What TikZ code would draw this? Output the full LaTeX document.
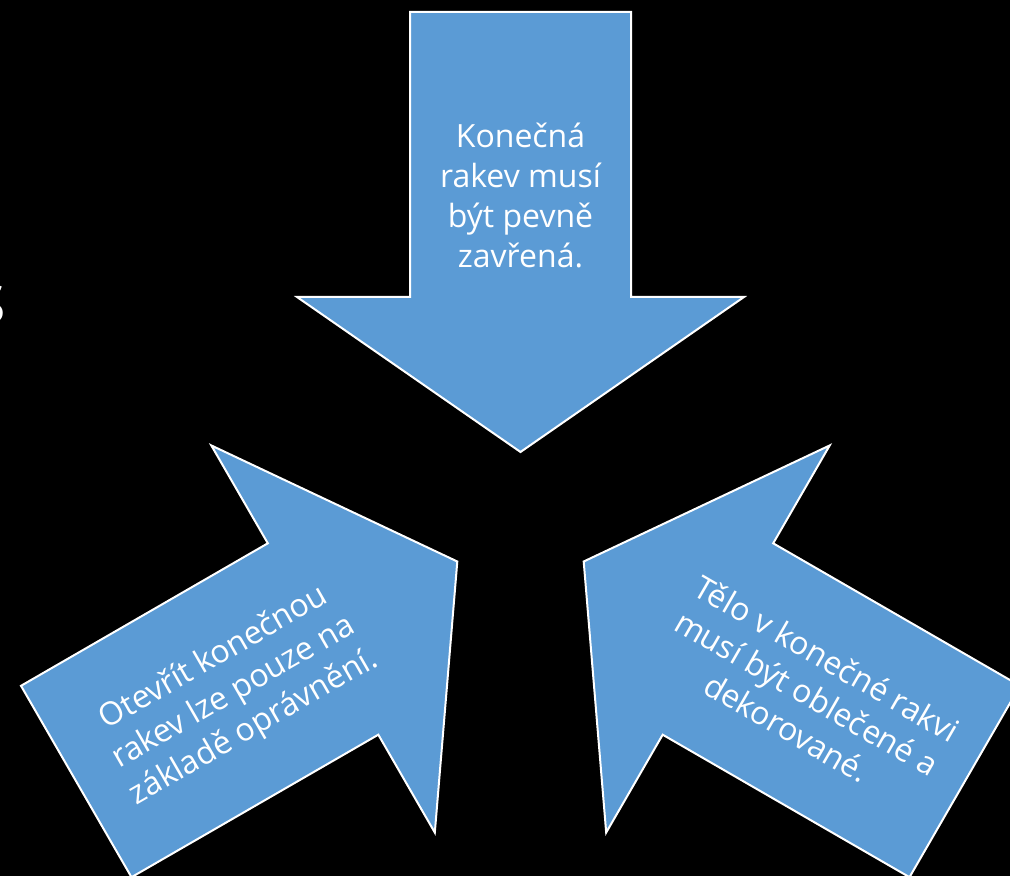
\documentclass[tikz,border=0pt]{standalone}
\usepackage{fontspec}
\setmainfont{Open Sans}
\definecolor{arrowblue}{HTML}{5B9BD5}
\tikzset{
  bigarrow/.style={fill=arrowblue, draw=white, line width=1.5pt, line join=miter},
  arrowtext/.style={text=white, align=center, inner sep=0pt, font=\fontsize{24}{30}\selectfont}
}
\begin{document}
\begin{tikzpicture}[x=0.75pt, y=0.75pt]
\useasboundingbox (0,0) rectangle (1010,876);
\fill[black] (0,0) rectangle (1010,876);
\clip (0,0) rectangle (1010,876);
% partial title letter at left edge
\node[text=white, anchor=base east, inner sep=0pt, font=\fontsize{40}{48}\selectfont] (title) at (6,552) {S};
% top arrow (pointing down)
\begin{scope}[shift={(520.5,424)}, rotate=-90]
  \draw[bigarrow] (0,0) -- (-155,223.5) -- (-155,110.5) -- (-440,110.5) -- (-440,-110.5) -- (-155,-110.5) -- (-155,-223.5) -- cycle;
\end{scope}
% left arrow (pointing up-right)
\begin{scope}[shift={(457.3,314.5)}, rotate=30]
  \draw[bigarrow] (0,0) -- (-155,223.5) -- (-155,110.5) -- (-440,110.5) -- (-440,-110.5) -- (-155,-110.5) -- (-155,-223.5) -- cycle;
\end{scope}
% right arrow (pointing up-left)
\begin{scope}[shift={(583.7,314.5)}, rotate=150]
  \draw[bigarrow] (0,0) -- (-155,223.5) -- (-155,110.5) -- (-440,110.5) -- (-440,-110.5) -- (-155,-110.5) -- (-155,-223.5) -- cycle;
\end{scope}
\node[arrowtext] (ttop) at (520.5,681) {Konečná\\rakev musí\\být pevně\\zavřená.};
\node[arrowtext, rotate=30] (tleft) at (234,183) {Otevřít konečnou\\rakev lze pouze na\\základě oprávnění.};
\node[arrowtext, rotate=-30] (tright) at (807,183) {Tělo v konečné rakvi\\musí být oblečené a\\dekorované.};
\end{tikzpicture}
\end{document}
